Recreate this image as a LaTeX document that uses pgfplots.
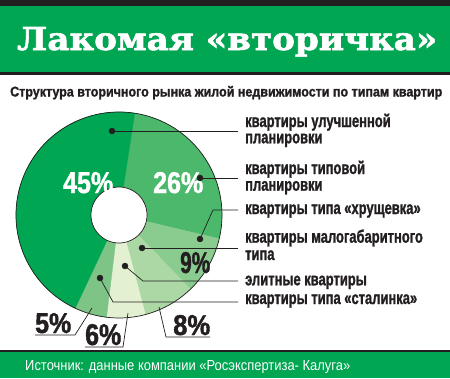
\documentclass[border=0pt]{standalone}
\usepackage{pgfplots}
\pgfplotsset{compat=1.18}
\usepgfplotslibrary{polar}
\usepackage{fontspec}
\setmainfont{Liberation Sans}
\newfontfamily\condb{Liberation Sans Bold}[FakeStretch=0.72, FakeBold=1.2]
\newfontfamily\cond{Liberation Sans}[FakeStretch=0.74]
\newfontfamily\titlefont{DejaVu Serif Bold}[FakeBold=1.8]
\definecolor{gmain}{HTML}{00A651}
\definecolor{tbar}{HTML}{231F20}
\definecolor{cA}{HTML}{4BB86B}
\definecolor{cB}{HTML}{8ACB90}
\definecolor{cC}{HTML}{ACD8A5}
\definecolor{cD}{HTML}{E4F0D2}
\definecolor{cE}{HTML}{7EC486}
\newcommand\lab[1]{{\condb\fontsize{18}{18}\selectfont #1}}
\begin{document}
\begin{tikzpicture}
\useasboundingbox (0,0) rectangle (450pt,378pt);
% shares in percent (clockwise from the top)
\pgfmathsetmacro{\k}{360/99}
\pgfmathsetmacro{\aA}{81.2}
\pgfmathsetmacro{\aB}{\aA-26*\k}% типовой планировки 26
\pgfmathsetmacro{\aC}{\aB-9*\k}% хрущевка 9
\pgfmathsetmacro{\aD}{\aC-8*\k}% малогабаритного 8
\pgfmathsetmacro{\aE}{\aD-6*\k}% элитные 6
\pgfmathsetmacro{\aF}{\aE-5*\k}% сталинка 5
\pgfmathsetmacro{\aG}{\aF-45*\k}% улучшенной 45
\begin{polaraxis}[at={(119pt,163pt)}, anchor=center, scale only axis,
  width=206pt, height=206pt, ymin=0, ymax=103, hide axis, clip=false]
\addplot[fill=cA, draw=cA, domain=\aB:\aA, samples=40] {103} -- (axis cs:0,0) -- cycle;
\addplot[fill=cB, draw=cB, domain=\aC:\aB, samples=30] {103} -- (axis cs:0,0) -- cycle;
\addplot[fill=cC, draw=cC, domain=\aD:\aC, samples=30] {103} -- (axis cs:0,0) -- cycle;
\addplot[fill=cD, draw=cD, domain=\aE:\aD, samples=30] {103} -- (axis cs:0,0) -- cycle;
\addplot[fill=cE, draw=cE, domain=\aF:\aE, samples=30] {103} -- (axis cs:0,0) -- cycle;
\addplot[fill=gmain, draw=gmain, domain=\aG:\aF, samples=60] {103} -- (axis cs:0,0) -- cycle;
\addplot[draw=tbar, line width=0.7pt, domain=0:360, samples=120] {103};
\addplot[fill=white, draw=tbar, line width=0.7pt, domain=0:360, samples=60] {28} -- cycle;
\end{polaraxis}
\begin{axis}[at={(0pt,0pt)}, anchor=south west, scale only axis,
  width=450pt, height=378pt, xmin=0, xmax=450, ymin=0, ymax=378,
  y dir=reverse, hide axis, clip=false]
% title and footer bars
\fill[tbar] (axis cs:0,0) rectangle (axis cs:450,5.5);
\fill[gmain] (axis cs:0,5.5) rectangle (axis cs:450,72);
\fill[tbar] (axis cs:0,72) rectangle (axis cs:450,75);
\fill[tbar] (axis cs:0,349.5) rectangle (axis cs:450,351.5);
\fill[gmain] (axis cs:0,351.5) rectangle (axis cs:450,378);
% leader lines
\addplot[tbar, line width=0.7pt, mark=none] coordinates {(112,131) (238,131)};
\addplot[tbar, line width=0.7pt, mark=none] coordinates {(200,178) (238,178)};
\addplot[tbar, line width=0.7pt, mark=none] coordinates {(200,239) (213,210) (238,210)};
\addplot[tbar, line width=0.7pt, mark=none] coordinates {(142,248) (238,248)};
\addplot[tbar, line width=0.7pt, mark=none] coordinates {(125,266) (143,281) (238,281)};
\addplot[tbar, line width=0.7pt, mark=none] coordinates {(100,278) (113,302) (238,302)};
\addplot[tbar, line width=0.7pt, mark=none] coordinates {(92,308) (75,335) (35,335)};
\addplot[tbar, line width=0.7pt, mark=none] coordinates {(128,313) (123,347) (85,347)};
\addplot[tbar, line width=0.7pt, mark=none] coordinates {(159,307) (166,337) (210,337)};
\addplot[only marks, mark=*, mark size=3pt, tbar] coordinates {(112,131) (200,178) (200,239) (142,248) (125,266) (100,278)};
% texts
\node[anchor=base west, inner sep=0, text=white] at (axis cs:17,50) {\resizebox{420pt}{23pt}{\titlefont Лакомая «вторичка»}};
\node[anchor=base west, inner sep=0, text=tbar] at (axis cs:10,96.5) {\resizebox{432pt}{10.5pt}{\condb Структура вторичного рынка жилой недвижимости по типам квартир}};
\node[anchor=base west, inner sep=0, text=white] at (axis cs:25,370) {\resizebox{325pt}{10pt}{\cond Источник: данные компании «Росэкспертиза- Калуга»}};
\node[anchor=base west, inner sep=0, text=tbar] at (axis cs:245,127) {\lab{квартиры улучшенной}};
\node[anchor=base west, inner sep=0, text=tbar] at (axis cs:245,143.3) {\lab{планировки}};
\node[anchor=base west, inner sep=0, text=tbar] at (axis cs:245,174) {\lab{квартиры типовой}};
\node[anchor=base west, inner sep=0, text=tbar] at (axis cs:245,190.7) {\lab{планировки}};
\node[anchor=base west, inner sep=0, text=tbar] at (axis cs:245,214) {\lab{квартиры типа «хрущевка»}};
\node[anchor=base west, inner sep=0, text=tbar] at (axis cs:245,242.7) {\lab{квартиры малогабаритного}};
\node[anchor=base west, inner sep=0, text=tbar] at (axis cs:245,260) {\lab{типа}};
\node[anchor=base west, inner sep=0, text=tbar] at (axis cs:245,285.3) {\lab{элитные квартиры}};
\node[anchor=base west, inner sep=0, text=tbar] at (axis cs:245,304) {\lab{квартиры типа «сталинка»}};
\node[anchor=base west, inner sep=0, text=white] at (axis cs:63,193) {\resizebox{50pt}{21pt}{\condb 45\%}};
\node[anchor=base west, inner sep=0, text=white] at (axis cs:153,193) {\resizebox{50pt}{21pt}{\condb 26\%}};
\node[anchor=base west, inner sep=0, text=tbar] at (axis cs:180,273) {\resizebox{30pt}{21pt}{\condb 9\%}};
\node[anchor=base west, inner sep=0, text=tbar] at (axis cs:35,333) {\resizebox{36pt}{20pt}{\condb 5\%}};
\node[anchor=base west, inner sep=0, text=tbar] at (axis cs:85,345) {\resizebox{36pt}{21pt}{\condb 6\%}};
\node[anchor=base west, inner sep=0, text=tbar] at (axis cs:173,335) {\resizebox{37pt}{20pt}{\condb 8\%}};
\end{axis}
\end{tikzpicture}
\end{document}
